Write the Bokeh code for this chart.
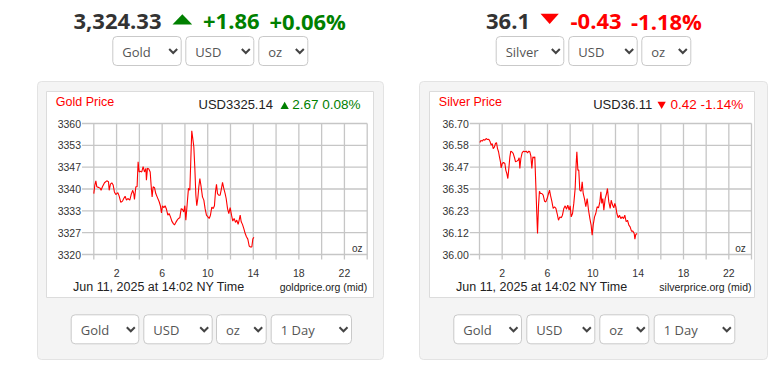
from bokeh.plotting import figure
from bokeh.models import Range1d
from bokeh.core.properties import value
from bokeh.embed import file_html
from bokeh.resources import INLINE

# ---------------- data ----------------
gold_hours = [0.00, 0.09, 0.18, 0.26, 0.41, 0.56, 0.64, 0.76, 0.94, 1.14,
              1.29, 1.35, 1.46, 1.58, 1.70, 1.81, 1.93, 2.11, 2.22, 2.37,
              2.52, 2.63, 2.75, 2.87, 2.99, 3.16, 3.28, 3.42, 3.51, 3.57,
              3.69, 3.80, 3.89, 3.98, 4.07, 4.21, 4.33, 4.45, 4.57, 4.62,
              4.71, 4.83, 4.95, 5.03, 5.12, 5.21, 5.33, 5.44, 5.56, 5.74,
              5.85, 5.94, 6.03, 6.15, 6.26, 6.38, 6.50, 6.61, 6.73, 6.85,
              6.97, 7.08, 7.20, 7.32, 7.43, 7.55, 7.67, 7.78, 7.90, 7.99,
              8.08, 8.19, 8.31, 8.43, 8.52, 8.60, 8.69, 8.78, 8.87, 8.96,
              9.04, 9.13, 9.22, 9.31, 9.42, 9.54, 9.66, 9.77, 9.89, 10.01,
              10.13, 10.24, 10.36, 10.48, 10.59, 10.68, 10.77, 10.86, 10.97, 11.09,
              11.21, 11.30, 11.41, 11.53, 11.62, 11.74, 11.85, 11.97, 12.09, 12.20,
              12.32, 12.44, 12.55, 12.67, 12.76, 12.85, 12.94, 13.05, 13.17, 13.29,
              13.40, 13.52, 13.64, 13.75, 13.87, 13.96, 14.05]
gold_prices = [3338.6, 3341.2, 3342.5, 3340.7, 3340.5, 3340.2, 3339.6, 3340.7, 3341.9, 3342.5,
               3342.2, 3339.6, 3341.5, 3341.9, 3341.2, 3339.1, 3338.3, 3338.9, 3337.9, 3335.9,
               3336.3, 3337.1, 3337.8, 3336.6, 3337.1, 3336.6, 3338.3, 3339.6, 3338.6, 3336.8,
               3340.7, 3340.7, 3348.3, 3345.2, 3345.4, 3345.2, 3346.8, 3345.2, 3346.3, 3342.7,
               3346.3, 3346.1, 3345.2, 3341.2, 3337.6, 3340.7, 3340.4, 3338.6, 3337.6, 3336.1,
               3334.8, 3332.7, 3334.9, 3334.3, 3334.9, 3333.8, 3332.0, 3332.5, 3331.5, 3330.2,
               3329.5, 3329.0, 3329.8, 3330.5, 3331.0, 3331.2, 3334.0, 3333.8, 3333.0, 3334.9,
               3330.5, 3335.1, 3340.2, 3339.6, 3349.3, 3357.8, 3355.4, 3352.9, 3346.3, 3338.1,
               3334.9, 3337.1, 3340.7, 3343.2, 3340.7, 3337.6, 3336.6, 3334.0, 3332.0, 3331.5,
               3331.0, 3332.0, 3334.5, 3334.0, 3334.9, 3339.1, 3341.4, 3338.6, 3338.1, 3338.1,
               3340.2, 3342.0, 3340.2, 3338.6, 3337.1, 3334.0, 3332.5, 3334.3, 3332.0, 3330.2,
               3331.0, 3329.8, 3330.5, 3329.2, 3330.5, 3332.0, 3330.0, 3329.2, 3327.9, 3326.4,
               3325.4, 3324.7, 3322.6, 3322.3, 3322.3, 3324.7, 3325.3]

silver_hours = [0.03, 0.12, 0.24, 0.35, 0.47, 0.59, 0.71, 0.82, 0.94, 1.03,
                1.12, 1.21, 1.32, 1.41, 1.50, 1.59, 1.68, 1.76, 1.85, 1.91,
                2.00, 2.12, 2.24, 2.32, 2.41, 2.50, 2.59, 2.68, 2.76, 2.85,
                2.97, 3.09, 3.18, 3.29, 3.41, 3.50, 3.56, 3.65, 3.76, 3.88,
                4.00, 4.12, 4.24, 4.35, 4.44, 4.53, 4.62, 4.71, 4.79, 4.88,
                4.97, 5.06, 5.12, 5.21, 5.29, 5.38, 5.50, 5.62, 5.74, 5.85,
                5.97, 6.09, 6.18, 6.26, 6.38, 6.50, 6.62, 6.74, 6.85, 6.97,
                7.09, 7.21, 7.32, 7.44, 7.56, 7.68, 7.79, 7.91, 8.00, 8.09,
                8.21, 8.32, 8.44, 8.53, 8.59, 8.68, 8.76, 8.85, 8.97, 9.06,
                9.15, 9.26, 9.38, 9.50, 9.62, 9.74, 9.85, 9.94, 10.03, 10.15,
                10.26, 10.38, 10.50, 10.62, 10.71, 10.79, 10.88, 10.97, 11.09, 11.21,
                11.29, 11.41, 11.53, 11.62, 11.74, 11.85, 11.94, 12.03, 12.12, 12.24,
                12.35, 12.47, 12.59, 12.71, 12.82, 12.94, 13.06, 13.18, 13.29, 13.41,
                13.53, 13.65, 13.71, 13.79, 13.91]
silver_prices = [36.598, 36.609, 36.606, 36.614, 36.611, 36.620, 36.614, 36.616, 36.602, 36.584,
                 36.593, 36.566, 36.575, 36.593, 36.598, 36.566, 36.549, 36.522, 36.495, 36.463,
                 36.486, 36.492, 36.486, 36.451, 36.433, 36.406, 36.460, 36.522, 36.552, 36.549,
                 36.540, 36.517, 36.495, 36.499, 36.504, 36.517, 36.460, 36.513, 36.543, 36.552,
                 36.549, 36.552, 36.543, 36.552, 36.549, 36.527, 36.460, 36.522, 36.517, 36.522,
                 36.370, 36.210, 36.112, 36.264, 36.338, 36.326, 36.326, 36.317, 36.285, 36.281,
                 36.299, 36.326, 36.344, 36.317, 36.285, 36.246, 36.255, 36.246, 36.219, 36.183,
                 36.201, 36.196, 36.210, 36.246, 36.260, 36.242, 36.264, 36.237, 36.260, 36.201,
                 36.219, 36.273, 36.353, 36.486, 36.549, 36.451, 36.451, 36.344, 36.338, 36.388,
                 36.326, 36.299, 36.255, 36.299, 36.237, 36.192, 36.157, 36.103, 36.157, 36.201,
                 36.219, 36.255, 36.249, 36.281, 36.335, 36.273, 36.299, 36.237, 36.299, 36.326,
                 36.353, 36.281, 36.246, 36.290, 36.264, 36.249, 36.273, 36.255, 36.219, 36.196,
                 36.210, 36.192, 36.201, 36.192, 36.210, 36.175, 36.183, 36.157, 36.148, 36.125,
                 36.125, 36.112, 36.082, 36.107, 36.112]

hour_grid = [0, 2, 4, 6, 8, 10, 12, 14, 16, 18, 20, 22, 24]
hour_labels = [2, 6, 10, 14, 18, 22]
gold_ticks = [3320, 3326.667, 3333.333, 3340, 3346.667, 3353.333, 3360]
gold_tick_labels = ["3320", "3327", "3333", "3340", "3347", "3353", "3360"]
silver_ticks = [36.00, 36.1167, 36.2333, 36.35, 36.4667, 36.5833, 36.70]
silver_tick_labels = ["36.00", "36.12", "36.23", "36.35", "36.47", "36.58", "36.70"]

gold_header = ["3,324.33", "+1.86", "+0.06%"]
silver_header = ["36.1", "-0.43", "-1.18%"]
gold_summary = ["USD3325.14", "2.67 0.08%"]
silver_summary = ["USD36.11", "0.42 -1.14%"]
footer_text = "Jun 11, 2025 at 14:02 NY Time"
gold_source = "goldprice.org (mid)"
silver_source = "silverprice.org (mid)"
top_gold_selects = ["Gold", "USD", "oz"]
top_silver_selects = ["Silver", "USD", "oz"]
bottom_selects = ["Gold", "USD", "oz", "1 Day"]

# ---------------- styling ----------------
GREEN = "#008000"
RED = "#ff0000"
DARK = "#333333"
HEAD_FONT = value("Open Sans")
CHART_FONT = value("Liberation Sans")

X0, X1, Y0, Y1 = 0, 770, 0, 365
p = figure(width=770, height=365, x_range=Range1d(X0, X1), y_range=Range1d(Y1, Y0),
           output_backend="svg", toolbar_location=None,
           x_axis_location=None, y_axis_location=None, min_border=0)
p.outline_line_color = None
p.background_fill_color = "white"
p.border_fill_color = "white"
p.grid.visible = False

# grey panels and white chart boxes
p.quad(left=[37, 419], right=[383, 767], top=[81, 81], bottom=[359, 359],
       fill_color="#f4f4f4", line_color="#e3e3e3", line_width=1, border_radius=4)
p.quad(left=[46, 429], right=[373, 754], top=[91, 91], bottom=[297, 297],
       fill_color="white", line_color="#dcdcdc", line_width=1)

# header values
def header(left_positions, texts, colors):
    p.text(x=left_positions, y=[20.8] * len(texts), text=texts, text_color=colors,
           text_font=HEAD_FONT, text_font_size="22px", text_font_style="bold",
           text_align="left", text_baseline="middle")

header([73, 202.5, 269], gold_header, [DARK, GREEN, GREEN])
header([485.5, 570, 630.5], silver_header, [DARK, RED, RED])
p.patches(xs=[[172, 191.7, 181.85], [540, 558.3, 549.15]],
          ys=[[24, 24, 13.7], [13.3, 13.3, 23.5]],
          fill_color=[GREEN, RED], line_color=None)

# select boxes
def selects(lefts, rights, labels, top, bottom):
    n = len(labels)
    p.quad(left=lefts, right=rights, top=[top] * n, bottom=[bottom] * n,
           fill_color="white", line_color="#c9c9c9", line_width=1, border_radius=4)
    cy = (top + bottom) / 2
    p.text(x=[l + 9.5 for l in lefts], y=[cy + 0.6] * n, text=labels,
           text_font=HEAD_FONT, text_font_size="13px", text_color="#555555",
           text_align="left", text_baseline="middle")
    xs = [[r - 12, r - 8, r - 4] for r in rights]
    ys = [[cy - 2, cy + 2, cy - 2]] * n
    p.multi_line(xs=xs, ys=ys, line_color="#444444", line_width=2, line_join="miter")

selects([112.3, 185.3, 258.3], [180.7, 253.3, 307.3], top_gold_selects, 36, 65)
selects([495.7, 568.3, 641.3], [563.3, 636.7, 690.3], top_silver_selects, 36, 65)
selects([70.7, 143.3, 216, 270.7], [138.3, 211.7, 265.7, 351], bottom_selects, 314.3, 343.3)
selects([453.3, 526.3, 599.3, 653.7], [521, 594.3, 648.3, 734.3], bottom_selects, 314.3, 343.3)

# ---------------- charts ----------------
def chart(key, hours, prices, ticks, tick_labels, hx0, hx24, py_lo, py_hi,
          label_right, box_left, title, summary, summary_color, tri_up,
          sum_x, tri_x, chg_x, source, oz_x):
    vmin, vmax = ticks[0], ticks[-1]
    sx = (hx24 - hx0) / 24.0
    sy = (py_lo - py_hi) / (vmax - vmin)
    xr, yr = key + "x", key + "y"
    p.extra_x_ranges[xr] = Range1d((X0 - hx0) / sx, (X1 - hx0) / sx)
    p.extra_y_ranges[yr] = Range1d(vmin + (py_lo - Y1) / sy, vmin + (py_lo - Y0) / sy)
    left_ext = (label_right + 1 - hx0) / sx
    below = 5 / sy
    # horizontal grid lines (extend left as tick marks)
    p.segment(x0=[left_ext] * len(ticks), x1=[24] * len(ticks), y0=ticks, y1=ticks,
              x_range_name=xr, y_range_name=yr, line_color="#c6c6c6", line_width=1.3)
    # vertical grid lines (extend below as tick marks)
    p.segment(x0=hour_grid, x1=hour_grid, y0=[vmax] * len(hour_grid),
              y1=[vmin - below] * len(hour_grid),
              x_range_name=xr, y_range_name=yr, line_color="#c6c6c6", line_width=1.3)
    # price line
    p.line(x=hours, y=prices, x_range_name=xr, y_range_name=yr,
           line_color=RED, line_width=1.1)
    # y tick labels
    p.text(x=[label_right] * len(ticks), y=ticks, text=tick_labels,
           x_range_name="default", y_range_name=yr,
           text_font=CHART_FONT, text_font_size="10.5px", text_color=DARK,
           text_align="right", text_baseline="middle")
    # x tick labels
    p.text(x=hour_labels, y=[272.2] * len(hour_labels), text=[str(h) for h in hour_labels],
           x_range_name=xr, text_font=CHART_FONT, text_font_size="10.5px",
           text_color=DARK, text_align="center", text_baseline="middle")
    # title + summary
    p.text(x=[box_left + 9.3], y=[101.7], text=[title], text_font=CHART_FONT,
           text_font_size="12.5px", text_color=RED, text_baseline="middle")
    p.text(x=[sum_x], y=[104], text=[summary[0]], text_font=CHART_FONT,
           text_font_size="13px", text_color="#222222", text_baseline="middle")
    p.text(x=[chg_x], y=[104], text=[summary[1]], text_font=CHART_FONT,
           text_font_size="13.5px", text_color=summary_color, text_baseline="middle")
    if tri_up:
        tys = [108.5, 108.5, 101.3]
    else:
        tys = [101.3, 101.3, 108.5]
    p.patch(x=[tri_x, tri_x + 8.3, tri_x + 4.15], y=tys, fill_color=summary_color, line_color=None)
    # footer
    p.text(x=[box_left + 26.5], y=[286], text=[footer_text], text_font=CHART_FONT,
           text_font_size="12.5px", text_color="#222222", text_baseline="middle")
    p.text(x=[hx24], y=[286.5], text=[source], text_font=CHART_FONT,
           text_font_size="10.5px", text_color="#222222", text_align="right",
           text_baseline="middle")
    p.text(x=[oz_x], y=[248], text=["oz"], text_font=CHART_FONT,
           text_font_size="10px", text_color=DARK, text_align="center",
           text_baseline="middle")

chart("g", gold_hours, gold_prices, gold_ticks, gold_tick_labels, 93.3, 366.7, 254, 123,
      80.5, 46, "Gold Price", gold_summary, GREEN, True, 198, 280, 291.7, gold_source, 356.7)
chart("s", silver_hours, silver_prices, silver_ticks, silver_tick_labels, 479, 751, 254, 123,
      468.3, 429, "Silver Price", silver_summary, RED, False, 592.7, 657, 670, silver_source, 740)

open("out.html", "w").write(file_html(p, INLINE))
